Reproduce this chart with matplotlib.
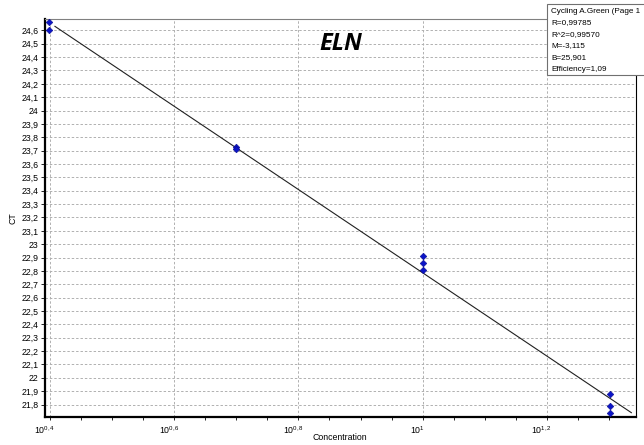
import numpy as np
import matplotlib
matplotlib.use("Agg")
import matplotlib.pyplot as plt
import matplotlib.transforms as mtransforms
from matplotlib.ticker import FixedLocator, FixedFormatter

plt.rcParams['font.family'] = ['Liberation Sans', 'DejaVu Sans']
plt.rcParams['mathtext.fontset'] = 'custom'
plt.rcParams['mathtext.rm'] = 'Liberation Sans'
plt.rcParams['mathtext.it'] = 'Liberation Sans:italic'

# standard curve samples (concentration, CT)
conc = [2.5, 2.5, 5, 5, 10, 10, 10, 20, 20, 20]
ct = [24.66, 24.60, 23.73, 23.715, 22.91, 22.86, 22.81, 21.88, 21.79, 21.735]

# regression values reported by the instrument
R = "0,99785"
R2 = "0,99570"
M = -3.115
B = 25.901
eff = "1,09"

x_exp = [0.4, 0.6, 0.8, 1.0, 1.2]
x_labels = ["$10^{0,4}$", "$10^{0,6}$", "$10^{0,8}$", "$10^{1}$", "$10^{1,2}$"]
y_ticks = np.round(np.arange(21.8, 24.61, 0.1), 1)

fig = plt.figure(figsize=(6.44, 4.45), dpi=100)
ax = fig.add_axes([45 / 644, 1 - 417 / 445, (635.7 - 45) / 644, (417 - 19) / 445])

ax.set_xscale('log')
ax.set_xlim(10 ** 0.392, 10 ** 1.343)
ax.set_ylim(21.707, 24.685)

# fit line
lx = np.array([0.408, 1.336])
ax.plot(10 ** lx, M * lx + B, color='#202020', lw=0.8, zorder=3)

ax.plot(conc, ct, linestyle='none', marker='D', ms=3.4, color='#0a14c8',
        mec='#0a0a90', mew=0.4, zorder=4, clip_on=False)

# ticks
ax.xaxis.set_major_locator(FixedLocator([10 ** e for e in x_exp]))
ax.xaxis.set_major_formatter(FixedFormatter(x_labels))
ax.xaxis.set_minor_locator(FixedLocator([10 ** (0.4 + 0.05 * k) for k in range(-1, 20)]))
ax.xaxis.set_minor_formatter(FixedFormatter([]))
ax.set_yticks(y_ticks)
ax.set_yticklabels([f"{v:g}".replace('.', ',') for v in y_ticks])

ax.tick_params(axis='x', which='both', direction='out', length=2.5, width=0.6,
               labelsize=6.3, pad=3)
ax.tick_params(axis='y', direction='out', length=3, width=0.6, labelsize=6.3, pad=1.5)
shift = mtransforms.ScaledTranslation(-5 / 100, 0, fig.dpi_scale_trans)
for lab in ax.get_xticklabels():
    lab.set_transform(lab.get_transform() + shift)

ax.grid(True, which='major', color='#b0b0b0', lw=0.7, linestyle=(0, (2.5, 2)))
ax.set_axisbelow(True)

for side in ['left', 'bottom']:
    ax.spines[side].set_linewidth(1.6)
    ax.spines[side].set_color('black')
ax.spines['top'].set_linewidth(0.8)
ax.spines['top'].set_color('#808080')
ax.spines['right'].set_linewidth(0.8)
ax.spines['right'].set_color('black')

fig.text(340 / 644, 1 - 438 / 445, "Concentration", fontsize=6.3,
         ha='center', va='center')
ax.set_ylabel("CT", fontsize=6.3, labelpad=3)

fig.text(341 / 644, 1 - 44 / 445, "ELN", fontsize=17, fontweight='bold',
         fontstyle='italic', family=['Open Sans', 'Lato', 'DejaVu Sans'],
         ha='center', va='center')

# results box in the corner
box_lines = ["Cycling A.Green (Page 1", "R=" + R, "R^2=" + R2,
             "M=" + f"{M:.3f}".replace('.', ','), "B=" + f"{B:.3f}".replace('.', ','),
             "Efficiency=" + eff]
fig.patches.append(plt.Rectangle((547 / 644, 1 - 75 / 445), 120 / 644, 71 / 445,
                                 transform=fig.transFigure, facecolor='white',
                                 edgecolor='#707070', lw=0.8, zorder=10))
for i, t in enumerate(box_lines):
    fig.text(551 / 644, 1 - (11.5 + 11.5 * i) / 445, t, fontsize=5.9,
             ha='left', va='center', zorder=11)

fig.savefig("out.png", dpi=100)
